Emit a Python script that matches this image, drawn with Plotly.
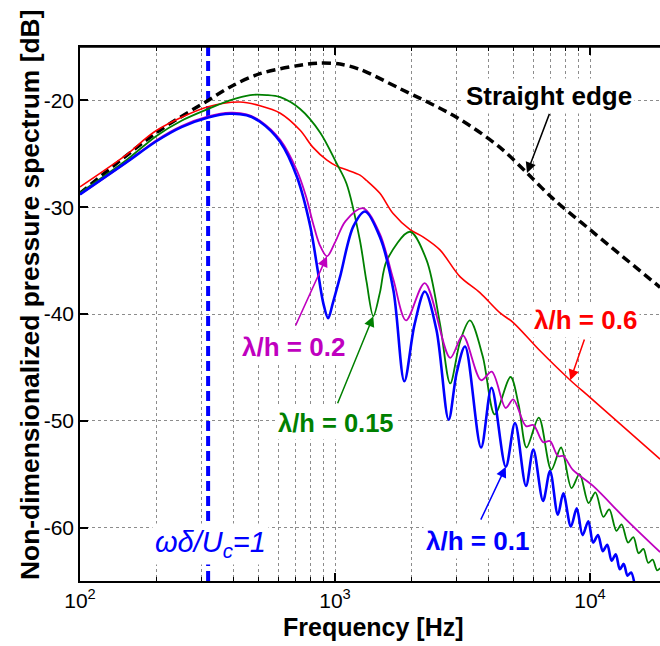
import numpy as np
import plotly.graph_objects as go

# ---------------- data ----------------
straight_f = [100, 200, 318, 398, 508, 730, 874, 1047, 1253, 1799, 3006, 4435, 5662, 7160, 10000, 18830]
straight_db = [-28.7, -23.0, -20.0, -18.6, -17.5, -16.7, -16.5, -16.6, -17.1, -18.9, -21.6, -24.4, -26.8, -29.2, -32.1, -37.5]

red_f = [100, 150, 200, 318, 424, 508, 610, 730, 820, 930, 1023, 1110, 1253, 1330, 1500, 1690, 1970,
         2220, 2580, 3090, 3700, 4440, 5000, 6340, 8370, 10100, 18830]
red_db = [-28.1, -25.2, -22.8, -20.6, -20.15, -20.5, -21.2, -22.8, -24.4, -25.6, -26.2, -26.5, -27.0, -27.5,
          -28.7, -30.6, -32.1, -32.8, -34.0, -36.5, -38.0, -39.9, -40.8, -43.4, -46.2, -47.9, -53.6]

green_f = [100, 150, 200, 250, 318, 387, 465, 540, 610, 730, 874, 1015, 1110, 1250, 1330, 1413, 1500, 1596,
           1968, 2290, 2580, 2830, 3100, 3380, 3800, 4230, 4880, 5250, 5640, 6300, 7050, 7700, 8460, 9100,
           9870, 10500, 11280, 11900, 12690, 13300, 14100, 14800, 15510, 16200, 16920, 17600, 18330, 18830]
green_db = [-28.65, -25.7, -23.3, -21.9, -20.8, -20.0, -19.5, -19.5, -19.7, -20.8, -23.0, -25.9, -27.8, -33.0,
            -37.0, -40.2, -38.0, -35.0, -32.3, -35.0, -40.9, -46.5, -42.5, -40.6, -44.0, -49.4, -45.9, -48.5,
            -52.5, -49.7, -54.6, -52.5, -56.3, -55.0, -57.7, -56.7, -59.0, -58.3, -60.3, -59.7, -61.4, -60.9,
            -62.4, -62.0, -63.3, -63.0, -64.0, -63.8]

magenta_f = [100, 150, 200, 250, 318, 390, 450, 508, 610, 710, 770, 820, 870, 930, 1000, 1100, 1290, 1500,
             1695, 1900, 2250, 2830, 3170, 3740, 4120, 4670, 5000, 5610, 6000, 6545, 6970, 7480, 7860, 8570,
             10280, 13930, 18830]
magenta_db = [-28.8, -25.9, -23.7, -22.4, -21.5, -21.15, -21.3, -21.9, -23.7, -26.6, -29.0, -31.5, -33.5,
              -34.6, -33.3, -31.3, -30.1, -32.5, -36.8, -40.6, -37.1, -44.1, -42.0, -46.2, -45.4, -48.8, -48.0,
              -50.5, -50.4, -52.0, -51.9, -53.3, -53.3, -54.6, -56.1, -59.3, -62.3]

blue_f = [100, 150, 200, 250, 318, 387, 450, 508, 610, 710, 800, 850, 900, 940, 980, 1047, 1180, 1312, 1500,
          1695, 1870, 2050, 2250, 2500, 2790, 3000, 3236, 3740, 4110, 4675, 5080, 5610, 5994, 6545, 6970,
          7480, 7860, 8415, 8870, 9350, 9850, 10285, 10750, 11220, 11690, 12155, 12620, 13090, 13560,
          14025, 14490, 15000]
blue_db = [-28.8, -25.9, -23.8, -22.5, -21.6, -21.25, -21.4, -22.0, -23.9, -27.2, -31.8, -35.5, -39.0, -40.4,
           -39.0, -36.5, -31.8, -30.4, -32.8, -37.8, -46.3, -41.0, -37.9, -41.5, -49.9, -45.5, -43.05, -52.5,
           -46.9, -54.3, -50.2, -56.1, -52.7, -57.5, -54.7, -58.8, -56.8, -59.9, -58.2, -60.7, -59.4, -61.4,
           -60.7, -62.2, -61.6, -63.1, -62.5, -63.9, -63.4, -64.5, -64.2, -65.5]

marker_freq = [318, 318]          # omega*delta/Uc = 1
marker_db = [-65, -15]

x_major = [100, 1000, 10000]
x_major_text = ["10<sup>2</sup>", "10<sup>3</sup>", "10<sup>4</sup>"]
x_minor = [200, 300, 400, 500, 600, 700, 800, 900, 2000, 3000, 4000, 5000, 6000, 7000, 8000, 9000]
y_ticks = [-60, -50, -40, -30, -20]
y_tick_text = ["-60", "-50", "-40", "-30", "-20"]

# ---------------- figure ----------------
FONT = "Liberation Sans, Arial, sans-serif"
BLUE = "#0000ff"
MAG = "#bf00bf"
GREEN = "#008000"
RED = "#ff0000"

fig = go.Figure()


def add_line(f, v, color, width, dash=None, smooth=0.9):
    fig.add_trace(go.Scatter(
        x=f, y=v, mode="lines",
        line=dict(color=color, width=width, dash=dash, shape="spline", smoothing=smooth),
        showlegend=False, hoverinfo="skip"))


add_line(marker_freq, marker_db, BLUE, 4, dash="10px,5px", smooth=0)
add_line(straight_f, straight_db, "black", 3.5, dash="9px,5px")
add_line(red_f, red_db, RED, 1.6)
add_line(green_f, green_db, GREEN, 1.8)
add_line(magenta_f, magenta_db, MAG, 1.8)
add_line(blue_f, blue_db, BLUE, 2.6)

lg = np.log10

annotations = []


def label(text, xf, ydb, color, size=26, bold=True, italic=False):
    t = f"<b>{text}</b>" if bold else text
    if italic:
        t = f"<i>{t}</i>"
    annotations.append(dict(x=lg(xf), y=ydb, xref="x", yref="y", text=t, showarrow=False,
                            font=dict(family=FONT, size=size, color=color), bgcolor="white",
                            borderpad=2, xanchor="center", yanchor="middle"))


def arrow(head_f, head_db, tail_f, tail_db, color):
    annotations.append(dict(x=lg(head_f), y=head_db, ax=lg(tail_f), ay=tail_db, xref="x", yref="y",
                            axref="x", ayref="y", text="", showarrow=True, arrowhead=2, arrowsize=1.4,
                            arrowwidth=1.5, arrowcolor=color, standoff=0, startstandoff=0))


label("Straight edge", 10 ** 3.839, -19.55, "black", size=26)
label("λ/h = 0.6", 10 ** 3.984, -40.56, RED, size=26)
label("λ/h = 0.2", 10 ** 2.839, -43.08, MAG, size=26)
label("λ/h = 0.15", 10 ** 3.002, -50.19, GREEN, size=25.5)
label("λ/h = 0.1", 10 ** 3.557, -61.3, BLUE, size=26)
label("ωδ/U<sub>c</sub>=1", 10 ** 2.51, -61.5, BLUE, size=29, bold=False, italic=True)

arrow(straight_f[12], straight_db[12], 10 ** 3.843, -21.12, "black")
arrow(red_f[24], red_db[24], 10 ** 3.980, -42.24, RED)
arrow(magenta_f[13], magenta_db[13], 10 ** 2.843, -41.2, MAG)
arrow(green_f[15], green_db[15], 10 ** 3.008, -48.5, GREEN)
arrow(blue_f[29], blue_db[29], 10 ** 3.569, -59.4, BLUE)

# axis titles
annotations.append(dict(x=(373 - 80) / 580, y=(581 - 627) / 534, xref="paper", yref="paper",
                        text="<b>Frequency [Hz]</b>", showarrow=False, xanchor="center", yanchor="middle",
                        font=dict(family=FONT, size=25, color="black")))
annotations.append(dict(x=(30 - 80) / 580, y=(581 - 295) / 534, xref="paper", yref="paper",
                        text="<b>Non-dimensionalized pressure spectrum [dB]</b>", showarrow=False,
                        textangle=-90, xanchor="center", yanchor="middle",
                        font=dict(family=FONT, size=26.4, color="black")))

grid = dict(showgrid=True, gridcolor="#8c8c8c", gridwidth=1, griddash="dot")

fig.update_layout(
    template="none",
    width=660, height=646,
    margin=dict(l=80, r=0, t=47, b=65, autoexpand=False),
    paper_bgcolor="white", plot_bgcolor="white",
    font=dict(family=FONT, color="black"),
    annotations=annotations,
    shapes=[dict(type="line", xref="paper", yref="paper", x0=0, x1=1, y0=1, y1=1,
                 line=dict(color="black", width=1.5), layer="above")],
    xaxis=dict(type="log", range=[2, 4.2745], automargin=False, showline=True, linecolor="black",
               linewidth=1.5, mirror="allticks", ticks="inside", ticklen=8, tickwidth=1.5, tickcolor="black",
               tickvals=x_major, ticktext=x_major_text, tickfont=dict(family=FONT, size=21, color="black"),
               zeroline=False, **grid,
               minor=dict(tickvals=x_minor, ticks="inside", ticklen=4, tickwidth=1, tickcolor="black",
                          showgrid=True, gridcolor="#8c8c8c", gridwidth=1, griddash="dot")),
    yaxis=dict(range=[-65, -15], automargin=False, showline=True, linecolor="black", linewidth=1.5,
               mirror=False, ticks="inside", ticklen=8, tickwidth=1.5, tickcolor="black",
               tickvals=y_ticks, ticktext=y_tick_text, tickfont=dict(family=FONT, size=21, color="black"),
               zeroline=False, **grid),
)

fig.write_html("out.html", config={"displayModeBar": False},
               post_script="document.body.style.margin='0px';"
                           "document.documentElement.style.overflow='hidden';")
